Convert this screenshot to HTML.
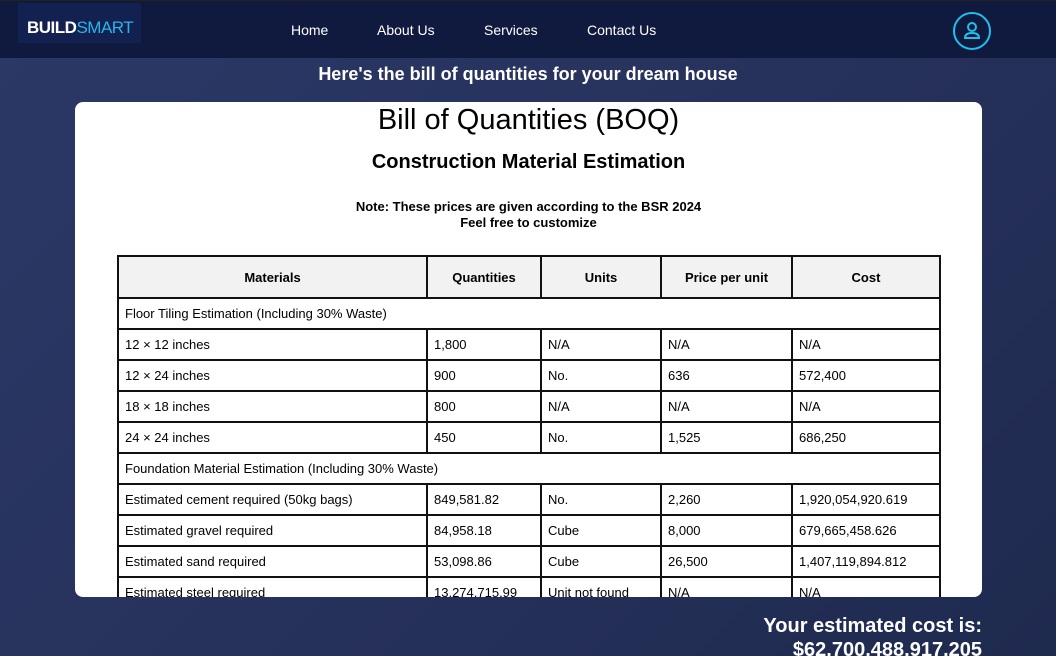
<!DOCTYPE html>
<html><head><meta charset="utf-8"><style>
*{box-sizing:border-box;margin:0;padding:0}
html,body{width:1056px;height:656px;overflow:hidden}
body{font-family:"Liberation Sans",sans-serif;background:linear-gradient(135deg,#2b3866 0%,#27325c 50%,#1f2a4f 100%);position:relative}
.hdr{position:absolute;left:0;top:0;width:1056px;height:58px;background:#0f1a3e;border-top:1px solid #222}
.logo{position:absolute;left:18px;top:2px;width:123px;height:40px;background:#132150;color:#fff;font-weight:bold;font-size:17px;line-height:20px;padding-top:15px;padding-left:9px;letter-spacing:-0.5px}
.logo span{color:#29b6e8;font-weight:normal}
.nav{position:absolute;top:21px;color:#fff;font-size:14px}
.user{position:absolute;left:953px;top:11px;width:38px;height:38px;border:2px solid #1ec0ee;border-radius:50%}
h2{position:absolute;top:64px;width:1056px;text-align:center;color:#fff;font-size:18px;font-weight:bold}
.card{position:absolute;left:75px;top:102px;width:907px;height:495px;background:#fff;border-radius:8px;overflow:hidden}
.t1{position:absolute;top:2px;width:100%;text-align:center;font-size:29px;color:#000}
.t2{position:absolute;top:49px;width:100%;text-align:center;font-size:20px;font-weight:bold}
.t3{position:absolute;top:97px;width:100%;text-align:center;font-size:13px;font-weight:bold;line-height:16px}
table{position:absolute;left:42px;top:153px;border-collapse:collapse;font-size:13px}
td,th{border:2px solid #111;height:31px;padding:0 6px;text-align:left}
th{height:42px;background:#f2f2f2;text-align:center;font-size:13px}
.cost{position:absolute;right:74px;top:614px;color:#fff;font-size:20px;font-weight:bold;text-align:right;line-height:24px}
</style></head><body>
<div class="hdr">
<div class="logo">BUILD<span>SMART</span></div>
<div class="nav" style="left:291px">Home</div>
<div class="nav" style="left:377px">About Us</div>
<div class="nav" style="left:484px">Services</div>
<div class="nav" style="left:587px">Contact Us</div>
<div class="user"><svg width="34" height="34" viewBox="0 0 34 34"><circle cx="17" cy="13" r="4" fill="none" stroke="#1ec0ee" stroke-width="2"/><path d="M10 24 Q10 19 17 19 Q24 19 24 24 Z" fill="none" stroke="#1ec0ee" stroke-width="2"/></svg></div>
</div>
<h2>Here's the bill of quantities for your dream house</h2>
<div class="card">
<div class="t1">Bill of Quantities (BOQ)</div>
<div class="t2">Construction Material Estimation</div>
<div class="t3">Note: These prices are given according to the BSR 2024<br>Feel free to customize</div>
<table>
<tr><th style="width:309px">Materials</th><th style="width:114px">Quantities</th><th style="width:120px">Units</th><th style="width:131px">Price per unit</th><th style="width:148px">Cost</th></tr>
<tr><td colspan="5">Floor Tiling Estimation (Including 30% Waste)</td></tr>
<tr><td>12 × 12 inches</td><td>1,800</td><td>N/A</td><td>N/A</td><td>N/A</td></tr>
<tr><td>12 × 24 inches</td><td>900</td><td>No.</td><td>636</td><td>572,400</td></tr>
<tr><td>18 × 18 inches</td><td>800</td><td>N/A</td><td>N/A</td><td>N/A</td></tr>
<tr><td>24 × 24 inches</td><td>450</td><td>No.</td><td>1,525</td><td>686,250</td></tr>
<tr><td colspan="5">Foundation Material Estimation (Including 30% Waste)</td></tr>
<tr><td>Estimated cement required (50kg bags)</td><td>849,581.82</td><td>No.</td><td>2,260</td><td>1,920,054,920.619</td></tr>
<tr><td>Estimated gravel required</td><td>84,958.18</td><td>Cube</td><td>8,000</td><td>679,665,458.626</td></tr>
<tr><td>Estimated sand required</td><td>53,098.86</td><td>Cube</td><td>26,500</td><td>1,407,119,894.812</td></tr>
<tr><td>Estimated steel required</td><td>13,274,715.99</td><td>Unit not found</td><td>N/A</td><td>N/A</td></tr>
</table>
</div>
<div class="cost">Your estimated cost is:<br>$62,700,488,917.205</div>
</body></html>
